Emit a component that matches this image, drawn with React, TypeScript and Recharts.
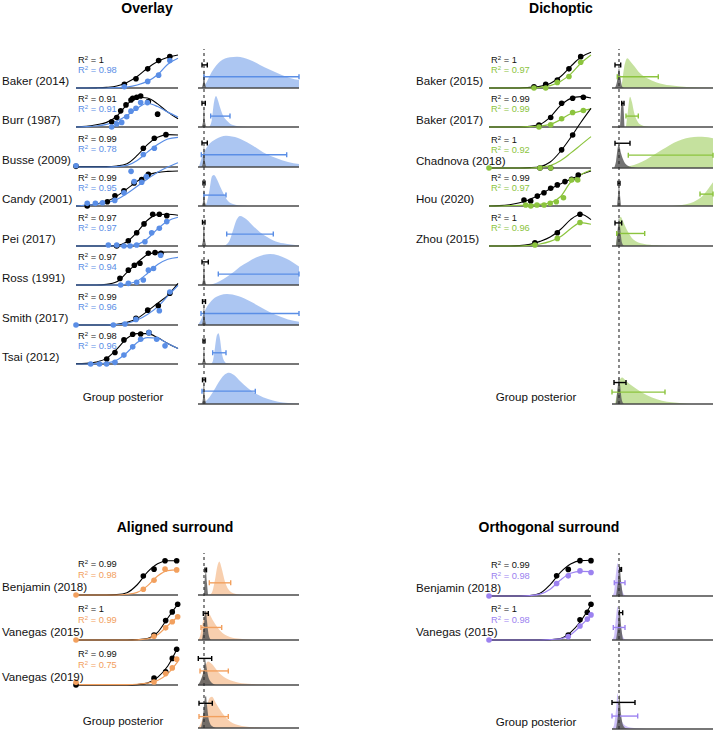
import React from 'react';
import { ComposedChart, Line, Scatter, Area, XAxis, YAxis, ReferenceLine, ErrorBar } from 'recharts';

type Pt = [number, number];
type Bar = [number, number, number]; // low, high, height level

const FONT = '"Liberation Sans", Arial, Helvetica, sans-serif';
const CURVE_X = [0, 1, 2, 3, 4, 5, 6, 7, 8, 9, 10];

// ---------- Overlay ----------
const overlayStudies = ['Baker (2014)', 'Burr (1987)', 'Busse (2009)', 'Candy (2001)', 'Pei (2017)', 'Ross (1991)', 'Smith (2017)', 'Tsai (2012)'];
const overlayR2Base = ['1', '0.91', '0.99', '0.99', '0.97', '0.97', '0.99', '0.98'];
const overlayR2Cond = ['0.98', '0.91', '0.78', '0.95', '0.97', '0.94', '0.96', '0.96'];
const overlayBaseCurves = [
  [0, 0, 0.005, 0.02, 0.06, 0.17, 0.35, 0.6, 0.8, 0.93, 1.0],
  [0, 0.02, 0.07, 0.14, 0.33, 0.68, 0.9, 0.88, 0.7, 0.45, 0.25],
  [0.01, 0.01, 0.01, 0.01, 0.03, 0.1, 0.35, 0.68, 0.9, 0.98, 0.97],
  [0, 0.02, 0.06, 0.14, 0.3, 0.52, 0.75, 0.93, 1.02, 1.05, 1.06],
  [0, 0, 0, 0, 0.02, 0.13, 0.42, 0.78, 0.95, 0.96, 0.93],
  [0, 0, 0, 0.02, 0.1, 0.38, 0.68, 0.92, 0.99, 1.0, 1.0],
  [0, 0, 0, 0, 0.02, 0.08, 0.2, 0.42, 0.66, 0.9, 1.26],
  [0.01, 0.02, 0.06, 0.17, 0.45, 0.78, 0.92, 0.92, 0.8, 0.62, 0.47],
];
const overlayCondCurves = [
  [0, 0, 0, 0, 0.01, 0.03, 0.09, 0.2, 0.4, 0.72, 0.9],
  [0, 0.01, 0.03, 0.08, 0.18, 0.35, 0.57, 0.72, 0.62, 0.45, 0.3],
  [0, 0, 0, 0, 0.01, 0.05, 0.2, 0.45, 0.68, 0.85, 0.9],
  [0, 0.02, 0.05, 0.1, 0.2, 0.38, 0.6, 0.82, 1.02, 1.18, 1.31],
  [0, 0, 0, 0, 0, 0.01, 0.05, 0.22, 0.52, 0.76, 0.87],
  [0, 0, 0, 0, 0, 0.03, 0.12, 0.35, 0.62, 0.78, 0.84],
  [0, 0, 0, 0, 0.01, 0.05, 0.15, 0.32, 0.55, 0.88, 1.2],
  [0, 0, 0.01, 0.03, 0.12, 0.35, 0.65, 0.8, 0.78, 0.62, 0.47],
];
const overlayBasePts: Pt[][] = [
  [[4.74, 0.11], [5.88, 0.28], [7.03, 0.58], [8.1, 0.83], [9.2, 0.95]],
  [[3.5, 0.16], [3.99, 0.29], [4.38, 0.49], [4.9, 0.67], [5.39, 0.82], [5.56, 0.87], [5.95, 0.9], [6.34, 0.94], [7.09, 0.77], [8.0, 0.39]],
  [[0, 0.02], [6.6, 0.57], [7.68, 0.87], [8.82, 0.98]],
  [[1.1, 0], [3.07, 0.13], [3.82, 0.31], [4.7, 0.46], [5.7, 0.7], [6.44, 0.8], [7.09, 0.96]],
  [[3.99, 0], [5.13, 0.16], [5.95, 0.4], [6.67, 0.67], [7.52, 0.96], [8.17, 0.96], [8.9, 0.92]],
  [[4.31, 0.2], [5.13, 0.45], [5.72, 0.6], [6.27, 0.66], [7.09, 0.96], [7.75, 0.98], [8.33, 0.96]],
  [[5.88, 0.2], [7.03, 0.45], [8.07, 0.58], [9.2, 0.96]],
  [[3.01, 0.15], [3.82, 0.35], [4.7, 0.73], [5.56, 0.9], [6.34, 0.91], [7.15, 0.95]],
];
const overlayCondPts: Pt[][] = [
  [[4.74, 0.04], [7.03, 0.2], [8.1, 0.39], [9.2, 0.83]],
  [[3.5, 0], [3.99, 0.09], [4.48, 0.14], [4.97, 0.31], [5.39, 0.48], [5.88, 0.57], [6.34, 0.74], [7.0, 0.74]],
  [[0, 0.04], [6.6, 0.38], [7.68, 0.57]],
  [[1.1, 0.08], [1.9, 0.08], [2.6, 0.1], [3.8, 0.17], [4.7, 0.4], [5.4, 1.05], [5.7, 0.74], [6.44, 0.72], [6.9, 0.89]],
  [[3.17, 0.03], [3.99, 0.03], [4.7, 0], [5.3, 0], [5.95, 0.03], [6.76, 0.13], [7.42, 0.4], [8.17, 0.54], [8.9, 0.74]],
  [[4.38, 0], [5.13, 0.05], [5.95, 0.08], [6.6, 0.15], [7.1, 0.45], [7.6, 0.5], [8.3, 0.9]],
  [[0, 0], [3.66, 0], [4.8, 0.03], [5.88, 0.17], [8.17, 0.43], [9.2, 1.0]],
  [[1.44, 0], [2.3, 0], [3.0, 0], [3.82, 0.05], [4.7, 0.27], [5.56, 0.52], [6.34, 0.75], [7.15, 0.95], [7.91, 0.75], [8.73, 0.55]],
];
const overlayCondDens: Pt[][] = [
  [[3, 0], [7, 0.1], [14, 0.5], [22, 0.8], [32, 0.93], [39, 0.95], [52, 0.85], [62, 0.7], [72, 0.55], [82, 0.42], [92, 0.3], [101, 0.24]],
  [[11, 0], [13.7, 0.2], [16, 0.75], [18, 0.94], [20, 0.8], [22, 0.6], [25, 0.35], [28.7, 0.2], [35, 0.06], [45, 0.01], [55, 0]],
  [[1, 0], [4, 0.3], [10, 0.65], [18, 0.85], [28, 0.95], [40, 0.88], [52, 0.7], [65, 0.45], [78, 0.27], [90, 0.15], [101, 0.09]],
  [[5, 0], [8, 0.05], [11, 0.4], [14, 0.9], [16, 0.94], [19, 0.8], [22, 0.6], [26, 0.35], [30, 0.15], [35, 0.06], [45, 0.01], [55, 0]],
  [[25, 0], [28.7, 0.05], [32, 0.2], [35.3, 0.5], [38.7, 0.8], [42, 0.91], [48.7, 0.8], [55.3, 0.6], [62, 0.42], [68.7, 0.28], [75.3, 0.17], [85.3, 0.08], [101, 0.02]],
  [[12, 0], [15, 0.03], [22, 0.12], [29, 0.25], [36, 0.4], [42, 0.55], [50, 0.7], [58, 0.83], [66, 0.92], [72, 0.94], [80, 0.9], [88, 0.8], [95, 0.68], [101, 0.56]],
  [[0, 0], [2, 0.1], [8, 0.5], [15, 0.78], [22, 0.9], [29, 0.94], [40, 0.88], [52, 0.72], [65, 0.5], [78, 0.3], [90, 0.17], [101, 0.1]],
  [[13, 0], [15, 0.1], [17, 0.5], [19, 0.88], [20.5, 0.93], [22, 0.75], [24, 0.3], [26, 0.1], [29, 0.02], [35, 0]],
];
const overlayBaseDens: Pt[][] = [
  [[3.5, 0], [5, 0.15], [6, 0.55], [7, 0.15], [8.5, 0]],
  [[3.5, 0], [5, 0.15], [6, 0.62], [7, 0.15], [8.5, 0]],
  [[3.5, 0], [5, 0.15], [6, 0.65], [7, 0.15], [8.5, 0]],
  [[3.5, 0], [5, 0.12], [6, 0.5], [7, 0.12], [8.5, 0]],
  [[3.5, 0], [5, 0.18], [6, 0.75], [7, 0.18], [8.5, 0]],
  [[3.5, 0], [5, 0.16], [6, 0.68], [7, 0.16], [8.5, 0]],
  [[3.5, 0], [5, 0.15], [6, 0.65], [7, 0.15], [8.5, 0]],
  [[3.5, 0], [5, 0.12], [6, 0.5], [7, 0.12], [8.5, 0]],
];
const overlayBaseBars: Bar[] = [[4, 9.3, 0.7], [4, 7.3, 0.72], [4, 9.3, 0.73], [5, 7, 0.7], [4.5, 7, 0.72], [4, 10.3, 0.7], [4.5, 7.5, 0.71], [5, 7, 0.7]];
const overlayCondBars: Bar[] = [[6, 101, 0.34], [12.7, 32, 0.33], [3.3, 88.7, 0.37], [6, 28, 0.33], [28.7, 75.3, 0.36], [20.3, 101, 0.33], [3, 101, 0.35], [14.7, 28, 0.34]];
const overlayGroupCondDens: Pt[] = [[2, 0], [4, 0.02], [10, 0.15], [16, 0.42], [22, 0.72], [27, 0.9], [31, 0.95], [36, 0.88], [42, 0.7], [50, 0.48], [60, 0.28], [70, 0.15], [80, 0.07], [90, 0.03], [101, 0.01]];
const overlayGroupBaseDens: Pt[] = [[3.5, 0], [5, 0.18], [6, 0.75], [7, 0.18], [8.5, 0]];
const overlayGroupBars: Bar[] = [[4.5, 7.5, 0.73], [4, 57.3, 0.39]];

// ---------- Dichoptic ----------
const dichStudies = ['Baker (2015)', 'Baker (2017)', 'Chadnova (2018)', 'Hou (2020)', 'Zhou (2015)'];
const dichR2Base = ['1', '0.99', '1', '0.99', '1'];
const dichR2Cond = ['0.97', '0.99', '0.92', '0.97', '0.96'];
const dichBaseCurves = [
  [0, 0, 0, 0, 0.02, 0.05, 0.14, 0.34, 0.65, 0.93, 1.08],
  [0, 0, 0, 0, 0.02, 0.08, 0.3, 0.65, 0.86, 0.92, 0.88],
  [0, 0, 0, 0, 0.01, 0.04, 0.18, 0.5, 0.92, 1.38, 1.81],
  [0, 0.01, 0.04, 0.1, 0.2, 0.35, 0.52, 0.67, 0.81, 0.95, 1.06],
  [0, 0, 0, 0.01, 0.05, 0.14, 0.27, 0.5, 0.8, 0.96, 0.8],
];
const dichCondCurves = [
  [0, 0, 0, 0, 0, 0.02, 0.07, 0.2, 0.42, 0.75, 1.0],
  [0, 0, 0, 0, 0.01, 0.03, 0.08, 0.22, 0.4, 0.48, 0.55],
  [0, 0, 0, 0, 0, 0.02, 0.07, 0.22, 0.45, 0.7, 0.95],
  [0, 0, 0.01, 0.02, 0.03, 0.05, 0.1, 0.28, 0.72, 0.95, 1.09],
  [0, 0, 0, 0, 0.02, 0.06, 0.14, 0.28, 0.52, 0.71, 0.66],
];
const dichBasePts: Pt[][] = [
  [[4.41, 0.04], [5.56, 0.11], [6.7, 0.24], [7.84, 0.58], [8.99, 0.95]],
  [[4.9, 0.06], [6.05, 0.29], [7.12, 0.72], [8.2, 0.87], [9.25, 0.9]],
  [[5, 0], [6.05, 0], [7.12, 0.55], [8.2, 1.0]],
  [[3.43, 0.18], [4.09, 0.15], [4.74, 0.3], [5.39, 0.4], [6.05, 0.54], [6.7, 0.64], [7.45, 0.74], [8.1, 0.81], [8.75, 0.94]],
  [[4.5, 0.1], [6.7, 0.4], [8.92, 0.96]],
];
const dichCondPts: Pt[][] = [
  [[4.41, 0], [5.56, 0], [6.7, 0.17], [7.84, 0.35], [8.99, 0.78]],
  [[4.9, 0], [6.05, 0.07], [7.12, 0.25], [8.2, 0.44], [9.25, 0.5]],
  [[0, 0], [5, 0], [6.05, 0]],
  [[3.6, 0.03], [4.1, 0], [4.7, 0.03], [5.4, 0.03], [6.0, 0.08], [6.6, 0.13], [7.3, 0.25], [8.1, 0.79], [8.7, 0.79]],
  [[4.5, 0.03], [6.7, 0.23], [8.92, 0.71]],
];
const dichCondDens: Pt[][] = [
  [[8, 0], [9.7, 0.1], [12, 0.6], [15.3, 0.9], [18, 0.82], [21.3, 0.7], [28, 0.45], [34.7, 0.3], [44.7, 0.17], [58, 0.08], [74.7, 0.03], [101, 0.01]],
  [[14, 0], [16, 0.5], [18, 0.92], [20, 0.75], [22, 0.45], [25, 0.2], [28, 0.08], [33, 0.02], [40, 0]],
  [[6, 0], [10, 0.02], [18, 0.06], [26, 0.14], [34, 0.25], [42, 0.4], [50, 0.55], [58, 0.7], [66, 0.82], [74, 0.9], [82, 0.94], [90, 0.95], [96, 0.93], [101, 0.9]],
  [[60, 0], [70, 0.03], [78, 0.08], [85, 0.18], [92, 0.35], [97, 0.55], [101, 0.72]],
  [[4, 0], [5.3, 0.3], [7, 0.75], [8.7, 0.89], [11, 0.75], [14.7, 0.5], [21.3, 0.2], [31.3, 0.07], [44.7, 0.02], [55, 0]],
];
const dichBaseDens: Pt[][] = [
  [[3, 0], [5, 0.2], [7, 0.6], [8.5, 0.3], [10, 0.05], [12, 0]],
  [[8, 0], [9.5, 0.7], [10.5, 0.77], [11.5, 0.6], [12.5, 0]],
  [[2, 0], [4, 0.2], [6, 0.65], [7, 0.7], [9, 0.45], [12, 0.2], [16, 0.07], [21, 0.02], [26, 0]],
  [[5, 0], [6.5, 0.5], [7, 0.68], [7.5, 0.5], [9, 0]],
  [[4, 0], [6, 0.6], [7, 0.85], [8, 0.6], [10, 0.1], [12, 0]],
];
const dichBaseBars: Bar[] = [[3, 8.7, 0.7], [9.7, 12, 0.72], [3, 18, 0.75], [6, 8, 0.69], [3, 9.7, 0.7]];
const dichCondBars: Bar[] = [[5.3, 46.3, 0.34], [14, 26.3, 0.33], [16.3, 101, 0.39], [88, 101, 0.36], [4.7, 32.7, 0.38]];
const dichGroupCondDens: Pt[] = [[3, 0], [5, 0.3], [8, 0.75], [10, 0.8], [14, 0.7], [20, 0.55], [30, 0.35], [40, 0.2], [50, 0.1], [60, 0.05], [75, 0.01], [85, 0]];
const dichGroupBaseDens: Pt[] = [[4, 0], [6, 0.6], [7, 0.82], [8, 0.6], [10, 0.1], [12, 0]];
const dichGroupBars: Bar[] = [[2, 14, 0.65], [0, 53, 0.36]];

// ---------- Aligned surround ----------
const alignStudies = ['Benjamin (2018)', 'Vanegas (2015)', 'Vanegas (2019)'];
const alignR2Base = ['0.99', '1', '0.99'];
const alignR2Cond = ['0.98', '0.99', '0.75'];
const alignBaseCurves = [
  [0, 0, 0, 0, 0.01, 0.06, 0.27, 0.6, 0.82, 0.9, 0.9],
  [0, 0, 0, 0, 0, 0, 0.01, 0.04, 0.2, 0.58, 0.95],
  [0, 0, 0, 0, 0, 0, 0.01, 0.05, 0.2, 0.5, 1.0],
];
const alignCondCurves = [
  [0, 0, 0, 0, 0, 0.02, 0.07, 0.24, 0.5, 0.64, 0.66],
  [0, 0, 0, 0, 0, 0, 0.005, 0.03, 0.14, 0.38, 0.62],
  [0.01, 0.01, 0.01, 0.01, 0.01, 0.01, 0.02, 0.05, 0.12, 0.3, 0.62],
];
const alignBasePts: Pt[][] = [
  [[6.6, 0.5], [7.65, 0.68], [8.73, 0.9], [9.87, 0.9]],
  [[7.65, 0.13], [8.79, 0.51], [9.44, 0.74], [9.97, 0.94]],
  [[0, 0], [7.65, 0.18], [8.79, 0.35], [9.44, 0.7], [9.87, 0.94]],
];
const alignCondPts: Pt[][] = [
  [[0, 0], [6.6, 0.15], [7.65, 0.39], [8.73, 0.68], [9.87, 0.66]],
  [[0, 0], [7.65, 0.1], [8.79, 0.32], [9.44, 0.48], [9.97, 0.61]],
  [[0, 0.07], [7.65, 0.08], [8.79, 0.3], [9.44, 0.45], [9.87, 0.68]],
];
const alignCondDens: Pt[][] = [
  [[11, 0], [13.7, 0.05], [17, 0.4], [19.3, 0.75], [21.3, 0.88], [23.7, 0.7], [27, 0.35], [32, 0.1], [38.7, 0.02], [45, 0]],
  [[0, 0], [2, 0.1], [5, 0.5], [8.7, 0.75], [11, 0.7], [15.3, 0.5], [22, 0.25], [32, 0.08], [42, 0.03], [55, 0]],
  [[0, 0], [2, 0.05], [6, 0.4], [10, 0.62], [14, 0.55], [20, 0.35], [28, 0.18], [38, 0.08], [50, 0.03], [65, 0.01], [75, 0]],
];
const alignBaseDens: Pt[][] = [
  [[6, 0], [7, 0.5], [8, 0.6], [9, 0.3], [10, 0]],
  [[4, 0], [6, 0.4], [7, 0.75], [8, 0.77], [9, 0.5], [11, 0.1], [13, 0]],
  [[0, 0], [3, 0.15], [6, 0.45], [7, 0.7], [8, 0.55], [10, 0.25], [13, 0.08], [18, 0]],
];
const alignBaseBars: Bar[] = [[7, 8.5, 0.66], [5.3, 10.3, 0.7], [0.3, 13.7, 0.7]];
const alignCondBars: Bar[] = [[11.3, 32.7, 0.32], [3, 23.7, 0.33], [2, 30.3, 0.37]];
const alignGroupCondDens: Pt[] = [[0, 0], [2, 0.08], [6, 0.35], [9, 0.6], [12, 0.8], [14, 0.82], [18, 0.65], [24, 0.4], [30, 0.22], [40, 0.08], [55, 0.02], [65, 0]];
const alignGroupBaseDens: Pt[] = [[3, 0], [5, 0.3], [7, 0.8], [8, 0.84], [9, 0.6], [11, 0.2], [14, 0.05], [18, 0]];
const alignGroupBars: Bar[] = [[1, 14.3, 0.65], [1, 30.3, 0.3]];

// ---------- Orthogonal surround ----------
const orthoStudies = ['Benjamin (2018)', 'Vanegas (2015)'];
const orthoR2Base = ['0.99', '1'];
const orthoR2Cond = ['0.98', '0.98'];
const orthoBaseCurves = [
  [0, 0, 0, 0, 0.01, 0.07, 0.3, 0.62, 0.84, 0.93, 0.94],
  [0, 0, 0, 0, 0, 0, 0.01, 0.04, 0.2, 0.5, 0.92],
];
const orthoCondCurves = [
  [0, 0, 0, 0, 0.01, 0.05, 0.18, 0.42, 0.6, 0.65, 0.64],
  [0, 0, 0, 0, 0, 0, 0.01, 0.03, 0.14, 0.38, 0.64],
];
const orthoBasePts: Pt[][] = [
  [[6.63, 0.53], [7.77, 0.7], [8.92, 0.93], [10, 0.93]],
  [[7.77, 0.13], [8.92, 0.53], [9.64, 0.73], [10, 0.94]],
];
const orthoCondPts: Pt[][] = [
  [[0, 0], [6.63, 0.33], [7.77, 0.53], [8.92, 0.66], [10, 0.62]],
  [[0, 0], [7.77, 0.09], [8.92, 0.37], [9.64, 0.55], [10, 0.66]],
];
const orthoCondDens: Pt[][] = [
  [[0, 0], [2, 0.1], [4, 0.6], [5.5, 0.86], [7, 0.7], [9, 0.3], [11, 0.08], [14, 0.01], [18, 0]],
  [[0, 0], [2, 0.1], [4, 0.6], [5.5, 0.88], [7, 0.7], [9, 0.3], [11, 0.08], [14, 0.01], [18, 0]],
];
const orthoBaseDens: Pt[][] = [
  [[4, 0], [6, 0.4], [7.5, 0.8], [9, 0.4], [11, 0]],
  [[4, 0], [6, 0.4], [7.5, 0.85], [9, 0.4], [11, 0]],
];
const orthoBaseBars: Bar[] = [[8, 9.5, 0.7], [7.3, 10.7, 0.72]];
const orthoCondBars: Bar[] = [[2.3, 13, 0.35], [1.3, 13, 0.33]];
const orthoGroupCondDens: Pt[] = [[0, 0], [2, 0.1], [4, 0.5], [5.5, 0.94], [7, 0.55], [10, 0.2], [14, 0.08], [20, 0.03], [28, 0.01], [35, 0]];
const orthoGroupBaseDens: Pt[] = [[4, 0], [6, 0.4], [7.3, 0.9], [9, 0.4], [11, 0.1], [14, 0.02], [18, 0]];
const orthoGroupBars: Bar[] = [[0, 23, 0.7], [0, 25.7, 0.34]];

const BLUE = '#5a8ee6';
const GREEN = '#8cc43e';
const ORANGE = '#f2a05e';
const PURPLE = '#9c82f0';
const AXIS = '#4a4a4a';

const noShape = () => <g />;
const dotShape = (fill: string) => (p: any) => <circle cx={p.cx} cy={p.cy} r={2.8} fill={fill} />;

function CurvePlot({ left, base, H, kCurve, cCurve, kPts, cPts, color }: any) {
  const rows = CURVE_X.map((x, i) => ({ x, k: kCurve[i], c: cCurve[i] }));
  return (
    <div style={{ position: 'absolute', left, top: base - 2 * H }}>
      <ComposedChart width={102} height={2 * H} data={rows} margin={{ top: 0, right: 0, bottom: 0, left: 0 }}>
        <XAxis dataKey="x" type="number" domain={[0, 10]} hide />
        <YAxis type="number" domain={[0, 2]} hide />
        <ReferenceLine y={0} stroke={AXIS} strokeWidth={1.3} />
        <Line dataKey="k" type="monotone" stroke="#000" strokeWidth={1.1} dot={false} isAnimationActive={false} />
        <Line dataKey="c" type="monotone" stroke={color} strokeWidth={1.2} dot={false} isAnimationActive={false} />
        <Scatter data={kPts.map(([x, y]: Pt) => ({ x, y }))} dataKey="y" shape={dotShape('#000')} isAnimationActive={false} />
        <Scatter data={cPts.map(([x, y]: Pt) => ({ x, y }))} dataKey="y" shape={dotShape(color)} isAnimationActive={false} />
      </ComposedChart>
    </div>
  );
}

function DensityPlot({ left, base, H, cDens, kDens, kBar, cBar, color }: any) {
  const xs = Array.from(new Set<number>([...cDens.map((p: Pt) => p[0]), ...kDens.map((p: Pt) => p[0])])).sort((a, b) => a - b);
  const cm = new Map<number, number>(cDens);
  const km = new Map<number, number>(kDens);
  const rows = xs.map((x) => ({ x, c: cm.has(x) ? cm.get(x) : null, k: km.has(x) ? km.get(x) : null }));
  const bar = (b: Bar) => {
    const mid = (b[0] + b[1]) / 2;
    return [{ x: mid, y: b[2], err: [mid - b[0], b[1] - mid] }];
  };
  return (
    <div style={{ position: 'absolute', left, top: base - H }}>
      <ComposedChart width={101} height={H} data={rows} margin={{ top: 0, right: 0, bottom: 0, left: 0 }}>
        <XAxis dataKey="x" type="number" domain={[0, 101]} hide />
        <YAxis type="number" domain={[0, 1]} hide />
        <Area dataKey="c" type="monotone" stroke="none" fill={color} fillOpacity={0.5} connectNulls isAnimationActive={false} />
        <Area dataKey="k" type="monotone" stroke="none" fill="#5a5a5a" fillOpacity={0.85} connectNulls isAnimationActive={false} />
        <ReferenceLine y={0} stroke={AXIS} strokeWidth={1.3} />
        <Scatter data={bar(kBar)} dataKey="y" shape={noShape} isAnimationActive={false}>
          <ErrorBar dataKey="err" direction="x" width={2.5} stroke="#000" strokeWidth={1.4} />
        </Scatter>
        <Scatter data={bar(cBar)} dataKey="y" shape={noShape} isAnimationActive={false}>
          <ErrorBar dataKey="err" direction="x" width={2.5} stroke={color} strokeWidth={1.4} />
        </Scatter>
      </ComposedChart>
    </div>
  );
}

function DashLine({ left, top, bottom, at }: any) {
  const pts = [{ x: at, y: 0 }, { x: at, y: 1 }];
  return (
    <div style={{ position: 'absolute', left, top }}>
      <ComposedChart width={101} height={bottom - top} data={pts} margin={{ top: 0, right: 0, bottom: 0, left: 0 }}>
        <XAxis dataKey="x" type="number" domain={[0, 101]} hide />
        <YAxis type="number" domain={[0, 1]} hide />
        <Line dataKey="y" type="linear" stroke="#2a2a2a" strokeWidth={1.1} strokeDasharray="3 3" dot={false} isAnimationActive={false} />
      </ComposedChart>
    </div>
  );
}

const txt = (left: number, top: number, children: any, extra: any = {}) => (
  <div style={{ position: 'absolute', left, top, transform: 'translateY(-50%)', whiteSpace: 'nowrap', lineHeight: 1, ...extra }}>{children}</div>
);

function R2({ left, y, value, color }: any) {
  return txt(left, y, <span>R<sup style={{ fontSize: '0.65em', verticalAlign: '0.45em' }}>2</sup> = {value}</span>, { fontSize: 9.3, color });
}

function Panel(p: any) {
  return (
    <>
      <div style={{ position: 'absolute', left: p.titleX, top: p.titleY, transform: 'translate(-50%, -50%)', fontWeight: 'bold', fontSize: 14, whiteSpace: 'nowrap' }}>{p.title}</div>
      {p.studies.map((s: string, i: number) => {
        const b = p.baselines[i];
        return (
          <React.Fragment key={s + i}>
            <CurvePlot left={p.leftX} base={b} H={p.H} kCurve={p.baseCurves[i]} cCurve={p.condCurves[i]} kPts={p.basePts[i]} cPts={p.condPts[i]} color={p.color} />
            <DensityPlot left={p.rightX} base={b} H={p.H} cDens={p.condDens[i]} kDens={p.baseDens[i]} kBar={p.baseBars[i]} cBar={p.condBars[i]} color={p.color} />
            {txt(p.labelX, b - p.labelOff, s, { fontSize: 11.6, color: '#111' })}
            <R2 left={p.leftX + 2} y={b - p.r2Off[0]} value={p.r2Base[i]} color="#111" />
            <R2 left={p.leftX + 2} y={b - p.r2Off[1]} value={p.r2Cond[i]} color={p.color} />
          </React.Fragment>
        );
      })}
      <DensityPlot left={p.rightX} base={p.groupBase} H={p.H} cDens={p.groupCondDens} kDens={p.groupBaseDens} kBar={p.groupBars[0]} cBar={p.groupBars[1]} color={p.color} />
      <div style={{ position: 'absolute', left: p.leftX + 47, top: p.groupBase - 8, transform: 'translate(-50%, -50%)', fontSize: 11.6, color: '#111', whiteSpace: 'nowrap' }}>Group posterior</div>
      <DashLine left={p.rightX} top={p.dashTop} bottom={p.groupBase} at={p.dashAt} />
    </>
  );
}

export default function App() {
  return (
    <div style={{ position: 'absolute', left: 0, top: 0, width: 716, height: 732, background: '#fff', fontFamily: FONT, overflow: 'hidden' }}>
      <style>{'.recharts-surface{overflow:visible}'}</style>
      <Panel title="Overlay" titleX={147} titleY={8} labelX={2} leftX={76} rightX={198} H={33} r2Off={[27.5, 18]} labelOff={7}
        baselines={[88, 127, 167, 206, 246, 285, 325, 364]} groupBase={404} dashTop={49} dashAt={6} color={BLUE}
        studies={overlayStudies} r2Base={overlayR2Base} r2Cond={overlayR2Cond} baseCurves={overlayBaseCurves} condCurves={overlayCondCurves}
        basePts={overlayBasePts} condPts={overlayCondPts} condDens={overlayCondDens} baseDens={overlayBaseDens}
        baseBars={overlayBaseBars} condBars={overlayCondBars} groupCondDens={overlayGroupCondDens} groupBaseDens={overlayGroupBaseDens} groupBars={overlayGroupBars} />
      <Panel title="Dichoptic" titleX={561} titleY={8} labelX={416} leftX={489} rightX={612} H={33} r2Off={[27.5, 18]} labelOff={7}
        baselines={[88, 127, 168, 206, 246]} groupBase={404} dashTop={49} dashAt={7} color={GREEN}
        studies={dichStudies} r2Base={dichR2Base} r2Cond={dichR2Cond} baseCurves={dichBaseCurves} condCurves={dichCondCurves}
        basePts={dichBasePts} condPts={dichCondPts} condDens={dichCondDens} baseDens={dichBaseDens}
        baseBars={dichBaseBars} condBars={dichCondBars} groupCondDens={dichGroupCondDens} groupBaseDens={dichGroupBaseDens} groupBars={dichGroupBars} />
      <Panel title="Aligned surround" titleX={175} titleY={527} labelX={2} leftX={76} rightX={198} H={38} r2Off={[31, 20]} labelOff={8}
        baselines={[595, 640, 685]} groupBase={728} dashTop={553} dashAt={6} color={ORANGE}
        studies={alignStudies} r2Base={alignR2Base} r2Cond={alignR2Cond} baseCurves={alignBaseCurves} condCurves={alignCondCurves}
        basePts={alignBasePts} condPts={alignCondPts} condDens={alignCondDens} baseDens={alignBaseDens}
        baseBars={alignBaseBars} condBars={alignCondBars} groupCondDens={alignGroupCondDens} groupBaseDens={alignGroupBaseDens} groupBars={alignGroupBars} />
      <Panel title="Orthogonal surround" titleX={549} titleY={527} labelX={416} leftX={489} rightX={612} H={38} r2Off={[31, 20]} labelOff={8}
        baselines={[596, 640]} groupBase={729} dashTop={553} dashAt={7} color={PURPLE}
        studies={orthoStudies} r2Base={orthoR2Base} r2Cond={orthoR2Cond} baseCurves={orthoBaseCurves} condCurves={orthoCondCurves}
        basePts={orthoBasePts} condPts={orthoCondPts} condDens={orthoCondDens} baseDens={orthoBaseDens}
        baseBars={orthoBaseBars} condBars={orthoCondBars} groupCondDens={orthoGroupCondDens} groupBaseDens={orthoGroupBaseDens} groupBars={orthoGroupBars} />
    </div>
  );
}
